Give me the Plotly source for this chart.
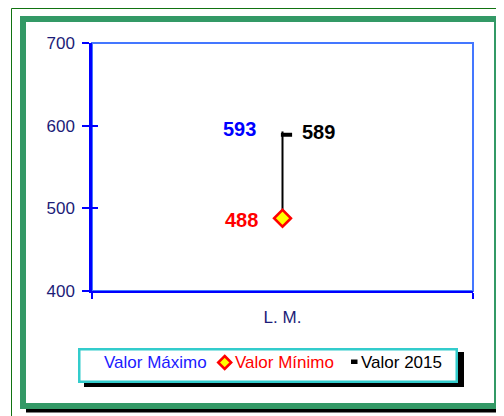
import plotly.graph_objects as go

categories = ["L. M."]
valor_maximo = [593]
valor_minimo = [488]
valor_2015 = [589]
y_ticks = [400, 500, 600, 700]
legend_labels = ["Valor Máximo", "Valor Mínimo", "Valor 2015"]

OFF = 8  # page body margin
W, H = 504 - OFF, 416 - OFF
L, R, T, B = 92, 473, 43, 291  # plot area in reference px


def px(x):
    return (x - L) / (R - L)


def py(y):
    return (B - y) / (B - T)


FONT = "Arial, Liberation Sans, sans-serif"
NAVY = "#1c1c78"
BLUE = "#0000FF"

fig = go.Figure()

# high-low line
fig.add_trace(go.Scatter(
    x=[categories[0], categories[0]], y=[valor_minimo[0], valor_maximo[0]],
    mode="lines", line=dict(color="black", width=2), showlegend=False,
    hoverinfo="skip"))
# max (no marker)
fig.add_trace(go.Scatter(x=categories, y=valor_maximo, mode="lines",
                         name=legend_labels[0], showlegend=False))
# min
fig.add_trace(go.Scatter(
    x=categories, y=valor_minimo, mode="markers", name=legend_labels[1],
    marker=dict(symbol="diamond", size=13, color="#FFFF00",
                line=dict(color="#FF0000", width=2.5)),
    xaxis="x2", yaxis="y2", showlegend=False))
# 2015
fig.add_trace(go.Scatter(
    x=categories, y=valor_2015, mode="markers", name=legend_labels[2],
    marker=dict(symbol="line-ew", size=8,
                line=dict(color="black", width=4)),
    xaxis="x3", yaxis="y", showlegend=False))

shapes = []
# thin outer green lines
shapes.append(dict(type="line", xref="paper", yref="paper", x0=px(11.5), y0=py(8.5),
                   x1=px(520), y1=py(8.5), line=dict(color="#117311", width=1), layer="below"))
shapes.append(dict(type="line", xref="paper", yref="paper", x0=px(11.5), y0=py(8.5),
                   x1=px(11.5), y1=py(430), line=dict(color="#117311", width=1), layer="below"))
# frame shadow + frame
shapes.append(dict(type="rect", xref="paper", yref="paper", x0=px(26), y0=py(22),
                   x1=px(520), y1=py(412.5), fillcolor="black", line=dict(width=0), layer="below"))
shapes.append(dict(type="rect", xref="paper", yref="paper", x0=px(23), y0=py(19),
                   x1=px(497), y1=py(406), fillcolor="white",
                   line=dict(color="#339966", width=6), layer="below"))
# plot area border (top/right lighter)
shapes.append(dict(type="rect", xref="paper", yref="paper", x0=0, y0=0, x1=1, y1=1,
                   line=dict(color="#4477FF", width=2), layer="below"))
# legend shadow + box
shapes.append(dict(type="rect", xref="paper", yref="paper", x0=px(84), y0=py(352),
                   x1=px(464), y1=py(387), fillcolor="black", line=dict(width=0), layer="below"))
shapes.append(dict(type="rect", xref="paper", yref="paper", x0=px(79.25), y0=py(349.25),
                   x1=px(456.75), y1=py(381.75), fillcolor="white",
                   line=dict(color="#33CCCC", width=2.5), layer="below"))
# legend symbols
cx, cy, r = 224.7, 362.5, 6.5
shapes.append(dict(type="path", xref="paper", yref="paper",
                   path="M {} {} L {} {} L {} {} L {} {} Z".format(
                       px(cx), py(cy - r), px(cx + r), py(cy),
                       px(cx), py(cy + r), px(cx - r), py(cy)),
                   fillcolor="#FFFF00", line=dict(color="#FF0000", width=2.5)))
shapes.append(dict(type="rect", xref="paper", yref="paper", x0=px(351), y0=py(359.5),
                   x1=px(357.5), y1=py(364), fillcolor="black", line=dict(width=0)))

annotations = []
# data labels
annotations.append(dict(x=categories[0], y=valor_maximo[0], xref="x", yref="y",
                        text=str(valor_maximo[0]), showarrow=False, xanchor="right",
                        xshift=-25, yshift=2.5,
                        font=dict(family=FONT, size=20, color=BLUE, weight="bold")))
annotations.append(dict(x=categories[0], y=valor_minimo[0], xref="x", yref="y",
                        text=str(valor_minimo[0]), showarrow=False, xanchor="right",
                        xshift=-23, yshift=-2,
                        font=dict(family=FONT, size=20, color="#FF0000", weight="bold")))
annotations.append(dict(x=categories[0], y=valor_2015[0], xref="x", yref="y",
                        text=str(valor_2015[0]), showarrow=False, xanchor="left",
                        xshift=17.5, yshift=3,
                        font=dict(family=FONT, size=20, color="black", weight="bold")))
# legend texts
for label, xpos, color in [(legend_labels[0], 101.5, "#1a1aff"),
                           (legend_labels[1], 233, "#FF0000"),
                           (legend_labels[2], 359, "black")]:
    annotations.append(dict(x=px(xpos), y=py(362.5), xref="paper", yref="paper",
                            text=label, showarrow=False, xanchor="left", yanchor="middle",
                            font=dict(family=FONT, size=17, color=color)))

fig.update_layout(
    width=W, height=H,
    margin=dict(l=L - OFF, r=W - (R - OFF), t=T - OFF, b=H - (B - OFF)),
    paper_bgcolor="white", plot_bgcolor="rgba(0,0,0,0)",
    showlegend=False,
    shapes=shapes, annotations=annotations,
    xaxis=dict(type="category", categoryorder="array", categoryarray=categories,
               range=[-0.5, 0.5], tickson="boundaries", ticks="outside", ticklen=6,
               tickwidth=2, tickcolor=BLUE, showline=True, linecolor=BLUE, linewidth=2,
               showgrid=False, zeroline=False, ticklabelstandoff=10,
               tickfont=dict(family=FONT, size=17, color=NAVY)),
    xaxis2=dict(type="category", categoryorder="array", categoryarray=categories,
                overlaying="x", anchor="y2", range=[-0.5, 0.5], tickson="boundaries",
                ticks="inside", ticklen=5, tickwidth=2, tickcolor=BLUE,
                showticklabels=False, showline=False, showgrid=False, zeroline=False),
    xaxis3=dict(type="category", categoryorder="array", categoryarray=categories,
                overlaying="x", anchor="y", range=[-0.5 - 0.0105, 0.5 - 0.0105],
                visible=False),
    yaxis=dict(range=[400, 700], tickvals=y_ticks, ticks="outside", ticklen=7,
               tickwidth=2, tickcolor=BLUE, showline=True, linecolor=BLUE, linewidth=2.5,
               showgrid=False, zeroline=False, ticklabelstandoff=4,
               tickfont=dict(family=FONT, size=17, color=NAVY)),
    yaxis2=dict(overlaying="y", anchor="x2", side="left", matches="y", range=[400, 700],
                tickvals=y_ticks, ticks="inside", ticklen=6, tickwidth=2, tickcolor=BLUE,
                showticklabels=False, showline=False, showgrid=False, zeroline=False),
)

fig.write_html("out.html")
